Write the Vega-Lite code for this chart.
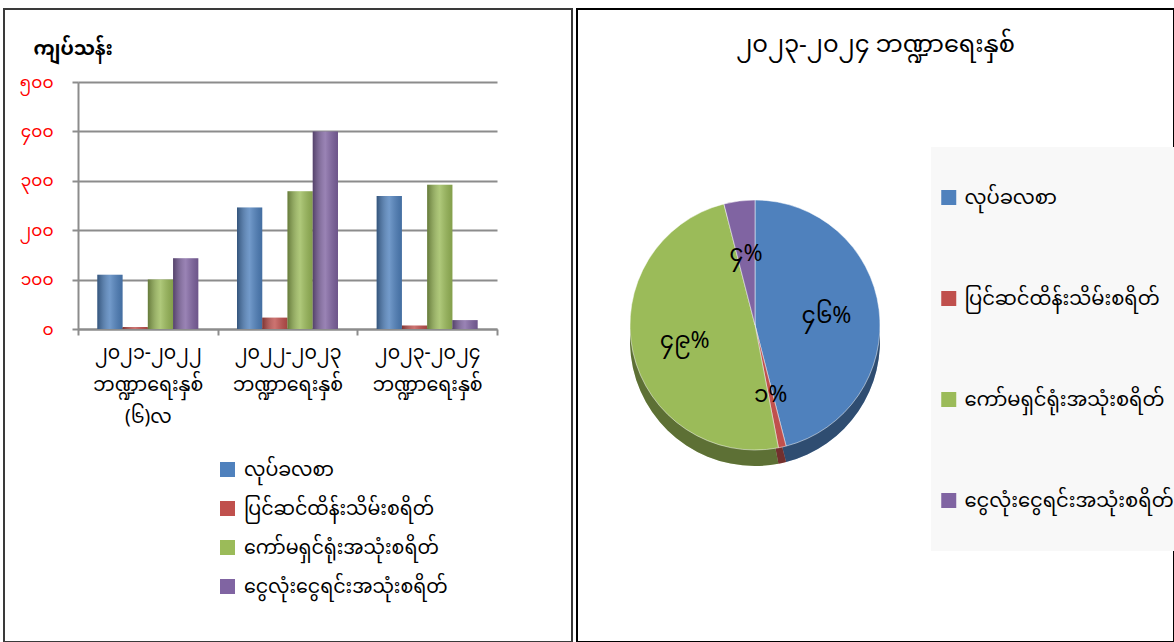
{
  "$schema": "https://vega.github.io/schema/vega-lite/v6.json",
  "padding": {"left": 3, "top": 8, "right": 0, "bottom": 0},
  "spacing": 3,
  "config": {
    "font": "Noto Sans Myanmar, Myanmar Text, Padauk, Pyidaungsu, Noto Sans, sans-serif",
    "view": {"strokeWidth": 2}
  },
  "resolve": {"scale": {"color": "independent"}, "legend": {"color": "independent"}},
  "hconcat": [
    {
      "width": 568,
      "height": 633,
      "view": {"stroke": "#3a3a3a", "strokeWidth": 2},
      "data": {
        "values": [
          {"year": "၂၀၂၁-၂၀၂၂ ဘဏ္ဍာရေးနှစ် (၆)လ", "item": "လုပ်ခလစာ", "value": 110},
          {"year": "၂၀၂၁-၂၀၂၂ ဘဏ္ဍာရေးနှစ် (၆)လ", "item": "ပြင်ဆင်ထိန်းသိမ်းစရိတ်", "value": 4},
          {"year": "၂၀၂၁-၂၀၂၂ ဘဏ္ဍာရေးနှစ် (၆)လ", "item": "ကော်မရှင်ရုံးအသုံးစရိတ်", "value": 100},
          {"year": "၂၀၂၁-၂၀၂၂ ဘဏ္ဍာရေးနှစ် (၆)လ", "item": "ငွေလုံးငွေရင်းအသုံးစရိတ်", "value": 143},
          {"year": "၂၀၂၂-၂၀၂၃ ဘဏ္ဍာရေးနှစ်", "item": "လုပ်ခလစာ", "value": 246},
          {"year": "၂၀၂၂-၂၀၂၃ ဘဏ္ဍာရေးနှစ်", "item": "ပြင်ဆင်ထိန်းသိမ်းစရိတ်", "value": 23},
          {"year": "၂၀၂၂-၂၀၂၃ ဘဏ္ဍာရေးနှစ်", "item": "ကော်မရှင်ရုံးအသုံးစရိတ်", "value": 279},
          {"year": "၂၀၂၂-၂၀၂၃ ဘဏ္ဍာရေးနှစ်", "item": "ငွေလုံးငွေရင်းအသုံးစရိတ်", "value": 400},
          {"year": "၂၀၂၃-၂၀၂၄ ဘဏ္ဍာရေးနှစ်", "item": "လုပ်ခလစာ", "value": 269},
          {"year": "၂၀၂၃-၂၀၂၄ ဘဏ္ဍာရေးနှစ်", "item": "ပြင်ဆင်ထိန်းသိမ်းစရိတ်", "value": 7},
          {"year": "၂၀၂၃-၂၀၂၄ ဘဏ္ဍာရေးနှစ်", "item": "ကော်မရှင်ရုံးအသုံးစရိတ်", "value": 292},
          {"year": "၂၀၂၃-၂၀၂၄ ဘဏ္ဍာရေးနှစ်", "item": "ငွေလုံးငွေရင်းအသုံးစရိတ်", "value": 18}
        ]
      },
      "encoding": {
        "x": {
          "field": "year", "type": "nominal", "sort": null,
          "scale": {"range": [74, 493], "paddingInner": 0, "paddingOuter": 0},
          "axis": {
            "orient": "bottom", "offset": -313, "title": null, "labelAngle": 0,
            "tickBand": "extent", "labelExpr": "split(datum.label, ' ')",
            "labelFontSize": 19, "labelColor": "#000000", "labelPadding": 8,
            "labelLineHeight": 32, "labelBaseline": "top", "labelLimit": 0,
            "tickColor": "#8c8c8c", "tickSize": 6, "tickWidth": 2,
            "domainColor": "#8c8c8c", "domainWidth": 2, "grid": false
          }
        },
        "xOffset": {
          "field": "item", "type": "nominal",
          "sort": ["လုပ်ခလစာ", "ပြင်ဆင်ထိန်းသိမ်းစရိတ်", "ကော်မရှင်ရုံးအသုံးစရိတ်", "ငွေလုံးငွေရင်းအသုံးစရိတ်"],
          "scale": {"paddingInner": 0, "paddingOuter": 0.766}
        },
        "y": {
          "field": "value", "type": "quantitative",
          "scale": {"domain": [0, 500], "range": [320, 73], "nice": false, "zero": true},
          "axis": {
            "offset": -74, "values": [0, 100, 200, 300, 400, 500],
            "labelExpr": "replace(replace(replace(replace(replace(replace(datum.label,regexp('0','g'),'၀'),regexp('1','g'),'၁'),regexp('2','g'),'၂'),regexp('3','g'),'၃'),regexp('4','g'),'၄'),regexp('5','g'),'၅')",
            "labelColor": "#ff0000", "labelFontSize": 17, "labelPadding": 19,
            "tickSize": 6, "tickColor": "#8c8c8c", "tickWidth": 2,
            "domainColor": "#8c8c8c", "domainWidth": 2,
            "grid": true, "gridColor": "#8c8c8c", "gridWidth": 2,
            "title": "ကျပ်သန်း", "titleAngle": 0, "titleX": -45, "titleY": 39,
            "titleAlign": "left", "titleBaseline": "middle",
            "titleFontSize": 19, "titleFontWeight": "bold", "titleColor": "#000000"
          }
        }
      },
      "layer": [
        {
          "mark": {"type": "bar"},
          "encoding": {
            "color": {
              "field": "item", "type": "nominal",
              "scale": {
                "domain": ["လုပ်ခလစာ", "ပြင်ဆင်ထိန်းသိမ်းစရိတ်", "ကော်မရှင်ရုံးအသုံးစရိတ်", "ငွေလုံးငွေရင်းအသုံးစရိတ်"],
                "range": ["#4f81bd", "#c0504d", "#9bbb59", "#8064a2"]
              },
              "legend": {
                "orient": "none", "legendX": 214, "legendY": 451, "title": null,
                "direction": "vertical", "padding": 0, "rowPadding": 19,
                "symbolType": "square", "symbolSize": 225, "symbolStrokeWidth": 0,
                "labelFontSize": 19, "labelOffset": 7, "labelLimit": 0, "labelColor": "#000000"
              }
            }
          }
        },
        {
          "mark": {
            "type": "bar",
            "color": {
              "gradient": "linear", "x1": 0, "x2": 1, "y1": 0, "y2": 0,
              "stops": [
                {"offset": 0, "color": "rgba(0,0,0,0.35)"},
                {"offset": 0.5, "color": "rgba(255,255,255,0.2)"},
                {"offset": 1, "color": "rgba(0,0,0,0.15)"}
              ]
            }
          }
        }
      ]
    },
    {
      "width": 597,
      "height": 633,
      "view": {"stroke": "#000000", "strokeWidth": 2},
      "title": {
        "text": "၂၀၂၃-၂၀၂၄ ဘဏ္ဍာရေးနှစ်", "fontSize": 24, "fontWeight": "normal",
        "color": "#000000", "anchor": "middle", "offset": -60, "baseline": "middle"
      },
      "data": {
        "values": [
          {"item": "လုပ်ခလစာ", "pct": 46, "label": "၄၆%", "n": 1},
          {"item": "ပြင်ဆင်ထိန်းသိမ်းစရိတ်", "pct": 1, "label": "၁%", "n": 2},
          {"item": "ကော်မရှင်ရုံးအသုံးစရိတ်", "pct": 49, "label": "၄၉%", "n": 3},
          {"item": "ငွေလုံးငွေရင်းအသုံးစရိတ်", "pct": 4, "label": "၄%", "n": 4}
        ]
      },
      "encoding": {
        "theta": {"field": "pct", "type": "quantitative", "stack": true},
        "order": {"field": "n", "type": "quantitative"}
      },
      "layer": [
        {
          "mark": {"type": "arc", "outerRadius": 125, "x": 178, "y": 316, "yOffset": 16},
          "encoding": {
            "color": {
              "field": "item", "type": "nominal",
              "scale": {
                "domain": ["လုပ်ခလစာ", "ပြင်ဆင်ထိန်းသိမ်းစရိတ်", "ကော်မရှင်ရုံးအသုံးစရိတ်", "ငွေလုံးငွေရင်းအသုံးစရိတ်"],
                "range": ["#4f81bd", "#c0504d", "#9bbb59", "#8064a2"]
              },
              "legend": {
                "orient": "none", "legendX": 354, "legendY": 138, "title": null,
                "direction": "vertical", "padding": 0, "rowPadding": 0, "clipHeight": 101,
                "symbolOffset": 8, "fillColor": "#f8f8f8",
                "symbolType": "square", "symbolSize": 225, "symbolStrokeWidth": 0,
                "labelFontSize": 19.5, "labelOffset": 6, "labelLimit": 0, "labelColor": "#000000"
              }
            }
          }
        },
        {
          "mark": {"type": "arc", "outerRadius": 125, "x": 178, "y": 316, "yOffset": 16, "color": "#000000", "opacity": 0.4}
        },
        {
          "mark": {"type": "arc", "outerRadius": 125, "x": 178, "y": 316, "stroke": "#ffffff", "strokeWidth": 0.5},
          "encoding": {"color": {"field": "item", "type": "nominal"}}
        },
        {
          "mark": {"type": "text", "x": 178, "y": 316, "fontSize": 23, "color": "#000000"},
          "encoding": {
            "text": {"field": "label"},
            "radius": {"condition": {"test": "datum.n == 2", "value": 45}, "value": 72}
          }
        }
      ]
    }
  ]
}
